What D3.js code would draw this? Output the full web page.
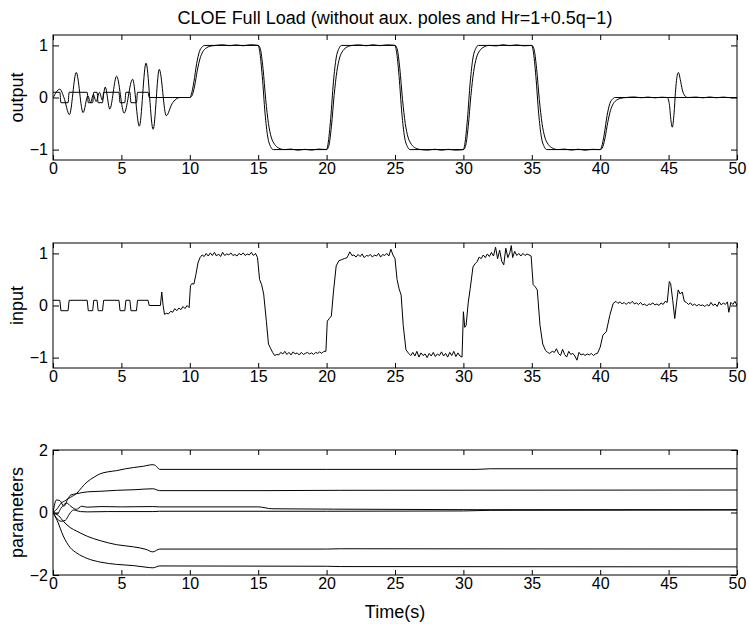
<!DOCTYPE html>
<html><head><meta charset="utf-8">
<script src="https://cdn.jsdelivr.net/npm/d3@7"></script>
<style>
body{margin:0;background:#fff}
svg{display:block}
text{font-family:"Liberation Sans",Arial,Helvetica,sans-serif;fill:#000}
</style>
</head><body>
<svg id="c" width="749" height="624"></svg>
<script>
// ---------- labels & ticks ----------
const titleText = "CLOE Full Load (without aux. poles and Hr=1+0.5q\u22121)";
const xLabelText = "Time(s)";
const xTicks = [0,5,10,15,20,25,30,35,40,45,50];
const xTickLabels = ["0","5","10","15","20","25","30","35","40","45","50"];
const yTicksIO = [-1,0,1];
const yTickLabelsIO = ["\u22121","0","1"];
const yTicksPar = [-2,0,2];
const yTickLabelsPar = ["\u22122","0","2"];
const panelLabels = ["output","input","parameters"];

// ---------- data: [time, value] ----------
const prbs = [[0,0.1],[0.5,0.1],[0.58,-0.1],[1.1,-0.1],[1.18,0.1],[2.5,0.1],[2.58,-0.1],[2.9,-0.1],[2.98,0.1],[3.22,0.1],[3.3,-0.1],[3.62,-0.1],[3.7,0.1],[4.82,0.1],[4.9,-0.1],[5.25,-0.1],[5.33,0.1],[5.62,0.1],[5.7,-0.1],[6.1,-0.1],[6.18,0.1],[6.95,0.1],[7.03,0]];

// output panel: model (fast) output after the excitation phase
const modelOutput = [[7.03,0],[10.0,0],[10.1,0.05],[10.3,0.3],[10.5,0.65],[10.7,0.88],[10.9,0.97],[11.1,1.0],
[15.0,1.0],[15.1,0.9],[15.3,0.4],[15.5,-0.3],[15.7,-0.76],[15.9,-0.94],[16.1,-1.0],
[20.0,-1.0],[20.1,-0.9],[20.3,-0.4],[20.5,0.3],[20.7,0.76],[20.9,0.94],[21.1,1.0],
[25.0,1.0],[25.1,0.9],[25.3,0.4],[25.5,-0.3],[25.7,-0.76],[25.9,-0.94],[26.1,-1.0],
[30.0,-1.0],[30.1,-0.9],[30.3,-0.4],[30.5,0.3],[30.7,0.76],[30.9,0.94],[31.1,1.0],
[35.0,1.0],[35.1,0.9],[35.3,0.4],[35.5,-0.3],[35.7,-0.76],[35.9,-0.94],[36.1,-1.0],
[40.0,-1.0],[40.1,-0.95],[40.3,-0.7],[40.5,-0.35],[40.7,-0.12],[40.9,-0.03],[41.1,0],[50,0]];

// output panel: plant output
const plantOutput = [[0,-0.01],[0.5,0.16],[0.8,0.0],[1.2,-0.33],[1.7,0.48],[2.2,-0.29],[2.55,0.03],[2.75,-0.1],[2.95,0.06],[3.15,-0.08],[3.4,0.1],[3.6,-0.05],[3.82,0.2],[4.15,-0.22],[4.65,0.41],[5.2,-0.3],[5.82,0.35],[6.31,-0.55],[6.8,0.66],[7.32,-0.61],[7.77,0.54],[8.28,-0.35],[8.7,-0.12],[9.0,-0.03],[9.3,0],[10.0,0],
[10.15,0.03],[10.35,0.22],[10.55,0.52],[10.75,0.75],[10.95,0.88],[11.2,0.95],[11.5,0.985],[11.9,1.0],[12.4,1.012],[12.9,0.995],[13.4,1.01],[13.9,0.993],[14.4,1.012],[15.0,1.0],
[15.15,0.94],[15.35,0.56],[15.55,-0.04],[15.75,-0.5],[15.95,-0.76],[16.2,-0.9],[16.5,-0.97],[16.9,-1.0],[17.4,-0.99],[17.9,-1.012],[18.4,-0.995],[18.9,-1.01],[19.4,-0.99],[20.0,-1.0],
[20.15,-0.94],[20.35,-0.56],[20.55,0.04],[20.75,0.5],[20.95,0.76],[21.2,0.9],[21.5,0.97],[21.9,1.0],[22.4,1.01],[22.9,0.993],[23.4,1.012],[23.9,0.995],[24.4,1.01],[25.0,1.0],
[25.15,0.94],[25.35,0.56],[25.55,-0.04],[25.75,-0.5],[25.95,-0.76],[26.2,-0.9],[26.5,-0.97],[26.9,-1.0],[27.4,-1.01],[27.9,-0.993],[28.4,-1.012],[28.9,-0.995],[29.4,-1.01],[30.0,-1.0],
[30.15,-0.94],[30.35,-0.56],[30.55,0.04],[30.75,0.5],[30.95,0.76],[31.2,0.9],[31.5,0.97],[31.9,1.0],[32.4,0.99],[32.9,1.012],[33.4,0.995],[33.9,1.01],[34.4,0.992],[35.0,1.0],
[35.15,0.94],[35.35,0.56],[35.55,-0.04],[35.75,-0.5],[35.95,-0.76],[36.2,-0.9],[36.5,-0.97],[36.9,-1.0],[37.4,-0.99],[37.9,-1.01],[38.4,-0.993],[38.9,-1.012],[39.4,-0.995],[40.0,-1.0],
[40.15,-0.97],[40.35,-0.78],[40.55,-0.48],[40.75,-0.25],[40.95,-0.12],[41.2,-0.05],[41.5,-0.015],[41.9,0],[42.5,0.01],[43.0,-0.005],[43.5,0.008],[44.0,-0.006],[44.5,0.006],[44.9,0.0],
[45.05,-0.12],[45.2,-0.5],[45.27,-0.57],[45.4,-0.3],[45.5,0.1],[45.65,0.45],[45.72,0.48],[45.85,0.35],[46.0,0.15],[46.2,0.03],[46.4,0.0],[47.0,0.008],[47.5,-0.006],[48.0,0.01],[48.5,-0.005],[49.0,0.008],[49.5,-0.004],[50,0.0]];

// input panel
const inputSignal = [[7.85,0],[7.95,0.26],[8.05,0.0],[8.15,-0.17],[8.3,-0.15],[8.45,-0.16],[8.6,-0.11],[8.75,-0.13],[8.9,-0.06],[9.05,-0.1],[9.2,-0.05],[9.35,-0.08],[9.5,-0.02],[9.65,-0.06],[9.8,0.0],[9.95,-0.04],[10.05,0.38],[10.15,0.42],[10.3,0.41],[10.45,0.6],[10.6,0.82],[10.75,0.92],[10.9,0.97],[11.05,0.94],[11.2,1.0],[11.35,0.95],[11.5,1.01],[11.65,0.96],[11.8,1.02],[11.95,0.95],[12.1,0.99],[12.25,0.94],[12.4,1.02],[12.55,0.96],[12.7,0.99],[12.85,0.97],[13.0,1.01],[13.15,0.96],[13.3,0.98],[13.45,0.95],[13.6,1.0],[13.75,0.97],[13.9,1.01],[14.05,0.96],[14.2,0.99],[14.35,0.97],[14.5,1.02],[14.65,0.96],[14.8,1.0],[14.95,0.92],[15.1,0.5],[15.25,0.4],[15.4,0.22],[15.6,-0.31],[15.75,-0.74],[15.9,-0.82],[16.05,-0.9],[16.2,-0.96],[16.35,-0.94],
[16.5,-0.95],[16.65,-0.9],[16.8,-0.93],[16.95,-0.88],[17.1,-0.94],[17.25,-0.9],[17.4,-0.95],[17.55,-0.89],[17.7,-0.93],[17.85,-0.91],[18.0,-0.95],[18.15,-0.9],[18.3,-0.94],[18.45,-0.92],[18.6,-0.9],[18.75,-0.93],[18.9,-0.91],[19.05,-0.94],[19.2,-0.9],[19.35,-0.92],[19.5,-0.89],[19.65,-0.92],[19.8,-0.88],[19.95,-0.88],[20.05,-0.3],[20.2,-0.25],[20.35,-0.2],[20.5,0.26],[20.7,0.76],[20.9,0.86],[21.1,0.88],[21.3,0.9],[21.5,0.92],[21.7,1.03],[21.85,0.96],
[22.0,0.97],[22.15,0.93],[22.3,0.98],[22.45,0.94],[22.6,0.99],[22.75,0.92],[22.9,0.96],[23.05,0.95],[23.2,0.98],[23.35,0.93],[23.5,0.97],[23.65,0.95],[23.8,1.0],[23.95,0.93],[24.1,0.98],[24.25,0.96],[24.4,1.0],[24.55,0.95],[24.7,1.08],[24.85,0.97],[25.0,0.9],[25.15,0.5],[25.3,0.32],[25.45,0.2],[25.6,-0.38],[25.8,-0.85],[26.0,-0.92],[26.15,-0.96],
[26.3,-0.9],[26.45,-0.97],[26.6,-0.88],[26.75,-0.99],[26.9,-0.91],[27.05,-0.96],[27.2,-0.93],[27.35,-1.0],[27.5,-0.92],[27.65,-0.97],[27.8,-0.9],[27.95,-0.98],[28.1,-0.93],[28.25,-0.96],[28.4,-0.89],[28.55,-0.97],[28.7,-0.92],[28.85,-0.99],[29.0,-0.9],[29.15,-0.96],[29.3,-0.88],[29.45,-0.98],[29.6,-0.91],[29.75,-0.97],[29.9,-0.99],[30.0,-0.12],[30.1,-0.42],[30.2,-0.38],[30.35,0.05],[30.5,0.33],[30.7,0.74],[30.85,0.8],[31.0,0.84],[31.15,0.93],[31.3,0.9],[31.45,0.97],[31.6,0.92],[31.75,0.99],[31.9,0.94],[32.05,1.02],[32.2,0.95],[32.35,1.12],[32.5,0.9],[32.65,1.06],[32.8,0.85],[32.95,0.78],[33.1,1.1],[33.25,0.92],[33.4,1.02],[33.5,1.15],[33.6,0.92],[33.75,1.04],[33.9,0.96],[34.05,1.0],[34.2,0.95],[34.35,1.0],[34.5,0.96],[34.65,0.99],[34.8,0.97],[34.95,0.95],
[35.1,0.4],[35.25,0.36],[35.4,0.3],[35.6,-0.38],[35.8,-0.74],[36.0,-0.86],[36.15,-0.9],[36.3,-0.92],[36.5,-0.88],[36.65,-0.9],[36.8,-0.83],[36.95,-0.92],[37.1,-0.96],[37.25,-0.84],[37.4,-0.94],[37.55,-0.99],[37.7,-0.88],[37.85,-0.94],[38.0,-0.92],[38.15,-0.97],[38.3,-1.05],[38.45,-0.9],[38.6,-0.95],[38.75,-0.93],[38.9,-0.96],[39.05,-0.93],[39.2,-0.95],[39.35,-0.92],[39.5,-0.96],[39.65,-0.93],[39.8,-0.92],[40.0,-0.8],[40.2,-0.57],[40.45,-0.5],[40.7,-0.19],[40.95,0.04],[41.15,0.08],[41.3,0.04],[41.45,0.07],[41.6,0.03],[41.75,0.06],[41.9,0.02],[42.05,0.06],[42.2,0.04],[42.35,0.08],[42.5,0.03],[42.65,0.05],[42.8,0.02],[42.95,0.06],[43.1,0.01],[43.25,0.03],[43.4,-0.01],[43.55,0.03],[43.7,0.02],[43.85,0.05],[44.0,0.01],[44.15,0.03],[44.3,0.0],[44.45,0.05],[44.6,0.02],[44.75,0.08],[44.9,0.06],
[45.05,0.46],[45.15,0.42],[45.3,0.1],[45.45,-0.25],[45.58,0.05],[45.7,0.3],[45.85,0.22],[46.0,0.26],[46.15,0.08],[46.3,0.06],[46.45,0.02],[46.6,0.05],[46.75,0.0],[46.9,0.03],[47.05,-0.01],[47.2,0.02],[47.35,0.0],[47.5,0.01],[47.65,-0.02],[47.8,0.02],[47.95,-0.01],[48.1,0.06],[48.25,0.0],[48.4,0.03],[48.55,-0.02],[48.7,0.07],[48.85,0.01],[49.0,0.05],[49.15,0.02],[49.3,0.07],[49.4,-0.13],[49.55,0.06],[49.7,0.02],[49.85,0.08],[50.0,0.0]];

// parameters panel
const param1 = [[0,0],[0.3,0.12],[0.6,0.3],[0.9,0.38],[1.25,0.48],[1.75,0.62],[2.1,0.8],[2.5,0.98],[3.0,1.13],[3.45,1.24],[4.0,1.3],[4.65,1.34],[5.3,1.4],[5.9,1.44],[6.6,1.48],[7.3,1.53],[7.5,1.5],[7.8,1.38],[20,1.38],[31,1.38],[32,1.4],[50,1.4]];
const param2 = [[0,0],[0.25,0.4],[0.5,0.38],[0.8,0.2],[1.1,0.45],[1.3,0.56],[1.7,0.6],[2.5,0.66],[3.5,0.68],[4.65,0.71],[6,0.73],[7.3,0.76],[7.8,0.7],[15.5,0.7],[21,0.71],[50,0.72]];
const param3 = [[0,0],[0.3,-0.05],[0.6,0.15],[1.0,0.3],[1.3,0.2],[1.7,0.1],[2.1,0.2],[2.5,0.17],[3.5,0.19],[5,0.18],[7.3,0.19],[7.8,0.18],[15,0.18],[16,0.12],[25,0.1],[31,0.09],[50,0.09]];
const param4 = [[0,0],[0.3,-0.2],[0.6,-0.28],[0.9,-0.25],[1.2,-0.05],[1.5,0.08],[2,0.03],[2.5,0.02],[4,0.03],[7.3,0.03],[7.8,0.04],[20,0.04],[30,0.05],[32,0.07],[50,0.08]];
const param5 = [[0,0],[0.4,-0.1],[0.8,-0.3],[1.25,-0.48],[1.75,-0.6],[2.5,-0.76],[3.45,-0.9],[4.65,-1.03],[5.9,-1.1],[6.8,-1.18],[7.3,-1.26],[7.8,-1.17],[20,-1.17],[21,-1.16],[50,-1.17]];
const param6 = [[0,0],[0.3,-0.25],[0.75,-0.75],[1.25,-1.12],[1.75,-1.3],[2.5,-1.47],[3.5,-1.59],[4.65,-1.66],[5.9,-1.7],[6.8,-1.75],[7.3,-1.77],[7.8,-1.71],[20,-1.72],[21,-1.73],[50,-1.74]];

// ---------- layout ----------
const svg = d3.select("#c");
const L = 53, R = 737, H = 125;
const x = d3.scaleLinear().domain([0,50]).range([L,R]);

svg.append("text").attr("x",(L+R)/2).attr("y",24).attr("text-anchor","middle")
  .style("font-size","18px").text(titleText);

const panels = [
  {top:35, dom:[-1.2,1.2], ticks:yTicksIO, labels:yTickLabelsIO, name:panelLabels[0],
   series:[prbs.concat(modelOutput), plantOutput], curve:d3.curveMonotoneX},
  {top:243, dom:[-1.2,1.2], ticks:yTicksIO, labels:yTickLabelsIO, name:panelLabels[1],
   series:[prbs.concat(inputSignal)], curve:d3.curveLinear},
  {top:450, dom:[-2,2], ticks:yTicksPar, labels:yTickLabelsPar, name:panelLabels[2],
   series:[param1,param2,param3,param4,param5,param6], curve:d3.curveMonotoneX}
];

panels.forEach((p,i)=>{
  const y = d3.scaleLinear().domain(p.dom).range([p.top+H, p.top]);
  const g = svg.append("g");
  const cid = "clip"+i;
  svg.append("clipPath").attr("id",cid).append("rect")
    .attr("x",L).attr("y",p.top).attr("width",R-L).attr("height",H);
  const line = d3.line().x(d=>x(d[0])).y(d=>y(d[1])).curve(p.curve);
  g.append("g").attr("clip-path",`url(#${cid})`).selectAll("path").data(p.series).join("path")
    .attr("d",line).attr("fill","none").attr("stroke","#000").attr("stroke-width",1);

  const ax = (gen, tx, ty, showLabels)=>{
    const a = g.append("g").attr("transform",`translate(${tx},${ty})`).call(gen);
    a.select(".domain").remove();
    a.selectAll(".tick line").attr("stroke","#000");
    if(!showLabels) a.selectAll(".tick text").remove();
    return a;
  };
  const bot = ax(d3.axisBottom(x).tickValues(xTicks).tickSize(-5).tickPadding(3)
      .tickFormat((d,k)=>xTickLabels[k]), 0, p.top+H, true);
  bot.selectAll("text").style("font-size","16px").attr("font-family",null);
  ax(d3.axisTop(x).tickValues(xTicks).tickSize(-5), 0, p.top, false);
  const lft = ax(d3.axisLeft(y).tickValues(p.ticks).tickSize(-6).tickPadding(5)
      .tickFormat((d,k)=>p.labels[k]), L, 0, true);
  lft.selectAll("text").style("font-size","16px").attr("font-family",null);
  ax(d3.axisRight(y).tickValues(p.ticks).tickSize(-6), R, 0, false);

  g.append("rect").attr("x",L).attr("y",p.top).attr("width",R-L).attr("height",H)
    .attr("fill","none").attr("stroke","#000").attr("stroke-width",1);

  g.append("text").attr("transform",`translate(23,${p.top+H/2}) rotate(-90)`)
    .attr("text-anchor","middle").style("font-size","18px").text(p.name);
});

svg.append("text").attr("x",(L+R)/2).attr("y",617.5).attr("text-anchor","middle")
  .style("font-size","18px").text(xLabelText);
</script>
</body></html>
